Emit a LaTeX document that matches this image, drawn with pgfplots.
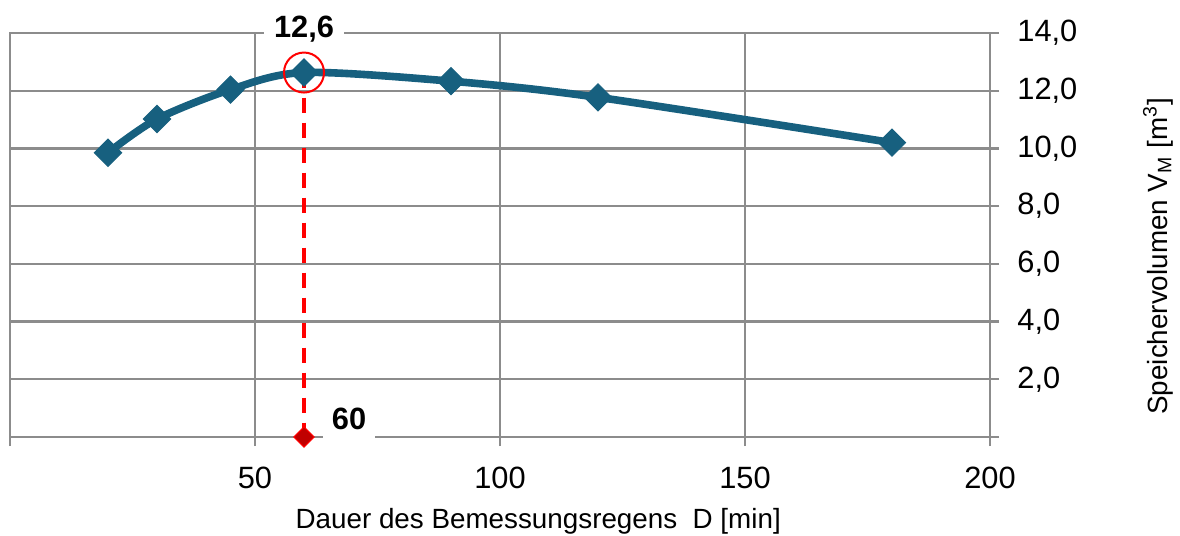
\documentclass[border=0pt]{standalone}
\usepackage{fontspec}
\setmainfont{Liberation Sans}
\usepackage{pgfplots}
\pgfplotsset{compat=1.18}
\usetikzlibrary{calc}
\definecolor{serie}{HTML}{17607F}
\definecolor{gridgray}{HTML}{8C8C8C}
\definecolor{darkred}{HTML}{C00000}
\begin{document}
\begin{tikzpicture}
\begin{axis}[
  scale only axis, width=490pt, height=202pt,
  xmin=0, xmax=200, ymin=0, ymax=14,
  xtick={0,50,100,150,200}, xticklabels={,50,100,150,200},
  ytick={0,2,4,6,8,10,12,14},
  yticklabels={,{2,0},{4,0},{6,0},{8,0},{10,0},{12,0},{14,0}},
  xtick pos=bottom, ytick pos=right, yticklabel pos=right,
  tick align=outside, major tick length=4.5pt,
  grid=major, major grid style={gridgray, line width=1.2pt},
  axis line style={gridgray, line width=1.2pt},
  tick style={gridgray, line width=1.2pt},
  ticklabel style={font=\fontsize{15.4}{18}\selectfont, text=black, inner sep=0pt},
  xticklabel style={anchor=north, yshift=-10.5pt},
  yticklabel style={anchor=west, xshift=9pt},
  label style={font=\fontsize{13.9}{16}\selectfont},
  xlabel={Dauer des Bemessungsregens~~D [min]},
  xlabel style={at={(rel axis cs:0.539,0)}, anchor=center, yshift=-42pt},
  ylabel={Speichervolumen V\textsubscript{M} [m\textsuperscript{3}]},
  ylabel style={at={(rel axis cs:1,0.447)}, anchor=center, yshift=-84pt},
  clip=false,
]
\addplot[serie, line width=3.8pt, smooth, mark=square*, mark size=4.8pt,
  mark options={rotate=45, line width=0.5pt, fill=serie, draw=serie}]
  coordinates {(20,9.85) (30,11.02) (45,12.04) (60,12.63) (90,12.33) (120,11.77) (180,10.2)};
\addplot[red, line width=1.6pt, dash pattern=on 7.5pt off 5pt]
  coordinates {(60,12.63) (60,0)};
\addplot[only marks, mark=o, mark size=10pt, mark options={red, line width=1pt}]
  coordinates {(60,12.63)};
\addplot[only marks, mark=square*, mark size=3.6pt,
  mark options={rotate=45, fill=darkred, draw=red, line width=0.5pt}]
  coordinates {(60,0)};
\node[fill=white, inner xsep=5pt, inner ysep=3pt, font=\fontsize{15.4}{18}\selectfont\bfseries, anchor=center, yshift=2pt] at (axis cs:60,14) {12,6};
\node[fill=white, inner xsep=4.5pt, inner ysep=5pt, font=\fontsize{15.4}{18}\selectfont\bfseries, anchor=center, yshift=9pt] at (axis cs:69.2,0) {60};
\end{axis}
\pgfresetboundingbox
\path (current axis.south west) ++(-5pt,-49.5pt) rectangle ($(current axis.north east)+(95pt,16.5pt)$);
\end{tikzpicture}
\end{document}
